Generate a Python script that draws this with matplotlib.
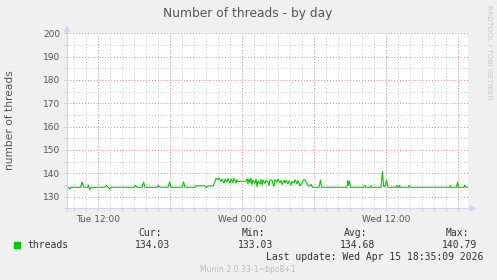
import matplotlib
matplotlib.use("Agg")
import matplotlib.pyplot as plt
from matplotlib.ticker import MultipleLocator, FuncFormatter
from matplotlib.patches import Polygon
from matplotlib.lines import Line2D

# ---- data (minutes relative to Wed 00:00, number of threads) ----
t_min = [-875, -868, -862, -855, -808, -800, -792, -772, -768, -762, -755,
         -685, -678, -670, -662, -655, -540, -532, -525, -500, -492, -485,
         -425, -418, -410, -370, -362, -355, -300, -292, -285, -235, -232,
         -185, -178, -170, -145, -135, -130, -120, -115, -105, -100, -90, -85,
         -75, -70, -60, -55, -45, -40, -30, -25, -20, -10, 20, 25, 30, 35, 40,
         45, 50, 55, 65, 70, 75, 80, 90, 95, 100, 105, 115, 120, 130, 135, 140,
         150, 155, 160, 165, 175, 180, 190, 195, 200, 210, 215, 220, 230, 235,
         245, 250, 260, 265, 275, 280, 290, 300, 305, 315, 320, 330, 335, 345,
         352, 385, 392, 398, 525, 528, 532, 537, 542, 608, 612, 618, 640, 644,
         648, 695, 702, 708, 715, 722, 730, 770, 774, 778, 784, 787, 790, 832,
         836, 840, 1038, 1042, 1045, 1072, 1078, 1082, 1110, 1114, 1118, 1130]
threads = [134.0, 134.0, 133.3, 134.0, 134.0, 136.3, 134.0, 134.0, 135.0, 133.03, 134.0,
           134.0, 134.7, 134.0, 133.3, 134.0, 134.0, 134.8, 134.0, 134.0, 136.2, 134.0,
           134.0, 134.8, 134.0, 134.0, 136.3, 134.0, 134.0, 136.3, 134.0, 134.0, 134.6,
           134.6, 133.8, 134.6, 134.6, 136.5, 137.8, 137.2, 137.9, 136.5, 137.6, 135.8, 137.5,
           136.2, 137.8, 135.7, 137.6, 136.0, 137.9, 135.8, 137.3, 136.4, 136.6, 136.6, 137.8, 135.5, 137.6, 136.0,
           137.9, 135.2, 137.0, 135.8, 137.5, 134.3, 136.8, 135.4, 137.4, 135.0, 137.2, 135.6, 137.0, 136.3, 134.8, 137.2,
           137.1, 135.4, 134.4, 137.3, 136.2, 137.5, 136.0, 137.0, 135.2, 137.0, 135.8, 137.1, 135.5, 136.8,
           135.0, 136.5, 135.8, 137.2, 135.5, 136.9, 134.6, 135.8, 137.0, 137.3, 136.5, 134.8, 134.5, 135.3,
           134.0, 134.0, 137.1, 134.0, 134.0, 136.9, 135.0, 136.8, 134.0, 134.0, 134.7, 134.0, 134.0, 134.7,
           134.0, 134.0, 140.79, 134.5, 134.3, 137.1, 134.0, 134.0, 134.8, 134.0, 134.0, 134.8, 134.0, 134.0,
           134.8, 134.0, 134.0, 134.8, 134.0, 134.0, 136.3, 134.0, 134.0, 135.0, 134.03, 134.03]

xtick_labels = {-720: "Tue 12:00", 0: "Wed 00:00", 720: "Wed 12:00"}
title = "Number of threads - by day"
ylabel = "number of threads"
series_name = "threads"
stat_names = ["Cur:", "Min:", "Avg:", "Max:"]
stat_values = ["134.03", "133.03", "134.68", "140.79"]
last_update = "Last update: Wed Apr 15 18:35:09 2026"
footer = "Munin 2.0.33-1~bpo8+1"
side_text = "RRDTOOL / TOBI OETIKER"

# ---- figure ----
W, H = 497, 280
fig = plt.figure(figsize=(W / 100, H / 100), dpi=100, facecolor="#F0F0F0")

def fx(x):
    return x / W

def fy(y):
    return 1 - y / H

ax_l, ax_r, ax_t, ax_b = 67, 468, 33.3, 208.3
ax = fig.add_axes([fx(ax_l), fy(ax_b), fx(ax_r - ax_l), (ax_b - ax_t) / H])
ax.set_facecolor("white")
for s in ax.spines.values():
    s.set_visible(False)

ax.set_xlim(-875, 1130)
ax.set_ylim(125, 200)

ax.xaxis.set_major_locator(MultipleLocator(360))
ax.xaxis.set_minor_locator(MultipleLocator(60))
ax.yaxis.set_major_locator(MultipleLocator(10))
ax.yaxis.set_minor_locator(MultipleLocator(5))
ax.xaxis.set_major_formatter(FuncFormatter(lambda v, p: xtick_labels.get(int(round(v)), "")))
ax.yaxis.set_major_formatter(FuncFormatter(lambda v, p: "%d" % v if v >= 130 else ""))

dot = (0, (1, 2))
ax.grid(which="minor", color="#C8C8C8", linestyle=dot, linewidth=0.7)
ax.grid(which="major", color="#F08080", linestyle=dot, linewidth=0.7)
ax.set_axisbelow(True)

ax.tick_params(which="both", length=2, width=0.6, color="#C8C8C8",
               labelsize=6.5, labelcolor="#555555")
ax.tick_params(axis="x", which="major", pad=2.5)
ax.tick_params(axis="y", which="major", pad=3)

ax.plot(t_min, threads, color="#00CC00", linewidth=0.8, zorder=3)

# axes lines with arrows (rrdtool style)
axis_col = "#CFD6F8"
fig.add_artist(Line2D([fx(ax_l), fx(ax_l)], [fy(211), fy(30)], color=axis_col, linewidth=0.8))
fig.add_artist(Line2D([fx(64), fx(472)], [fy(ax_b), fy(ax_b)], color=axis_col, linewidth=0.8))
fig.add_artist(Polygon([[fx(ax_l - 2.5), fy(32)], [fx(ax_l + 2.5), fy(32)], [fx(ax_l), fy(26.5)]],
                       closed=True, color=axis_col, transform=fig.transFigure))
fig.add_artist(Polygon([[fx(470), fy(ax_b - 2.5)], [fx(470), fy(ax_b + 2.5)], [fx(475.5), fy(ax_b)]],
                       closed=True, color=axis_col, transform=fig.transFigure))

txt_col = "#555555"
fig.text(fx(248), fy(13), title, ha="center", va="center", fontsize=8.8, color=txt_col)
fig.text(fx(10.5), fy(120), ylabel, ha="center", va="center", rotation=90,
         fontsize=7.7, color=txt_col)
fig.text(fx(489), fy(5), side_text, ha="center", va="top", rotation=270,
         fontsize=5.3, color="#C8C8C8")

# legend
mono = "DejaVu Sans Mono"
fig.add_artist(Polygon([[fx(14), fy(242)], [fx(20), fy(242)], [fx(20), fy(247.5)], [fx(14), fy(247.5)]],
                       closed=True, color="#00CC00", transform=fig.transFigure))
fig.text(fx(27), fy(245.3), series_name, ha="left", va="center", family=mono,
         fontsize=7, color="#333333")
head_right = [162, 265, 367, 469]
val_right = [170, 273, 375, 477]
for name, xr in zip(stat_names, head_right):
    fig.text(fx(xr), fy(233.3), name, ha="right", va="center", family=mono,
             fontsize=7, color="#333333")
for v, xr in zip(stat_values, val_right):
    fig.text(fx(xr), fy(245.3), v, ha="right", va="center", family=mono,
             fontsize=7, color="#333333")
fig.text(fx(483), fy(257.3), last_update, ha="right", va="center", family=mono,
         fontsize=7, color="#333333")
fig.text(fx(248), fy(269.5), footer, ha="center", va="center", fontsize=5.6,
         color="#BBBBBB")

fig.savefig("out.png", dpi=100, facecolor=fig.get_facecolor())
